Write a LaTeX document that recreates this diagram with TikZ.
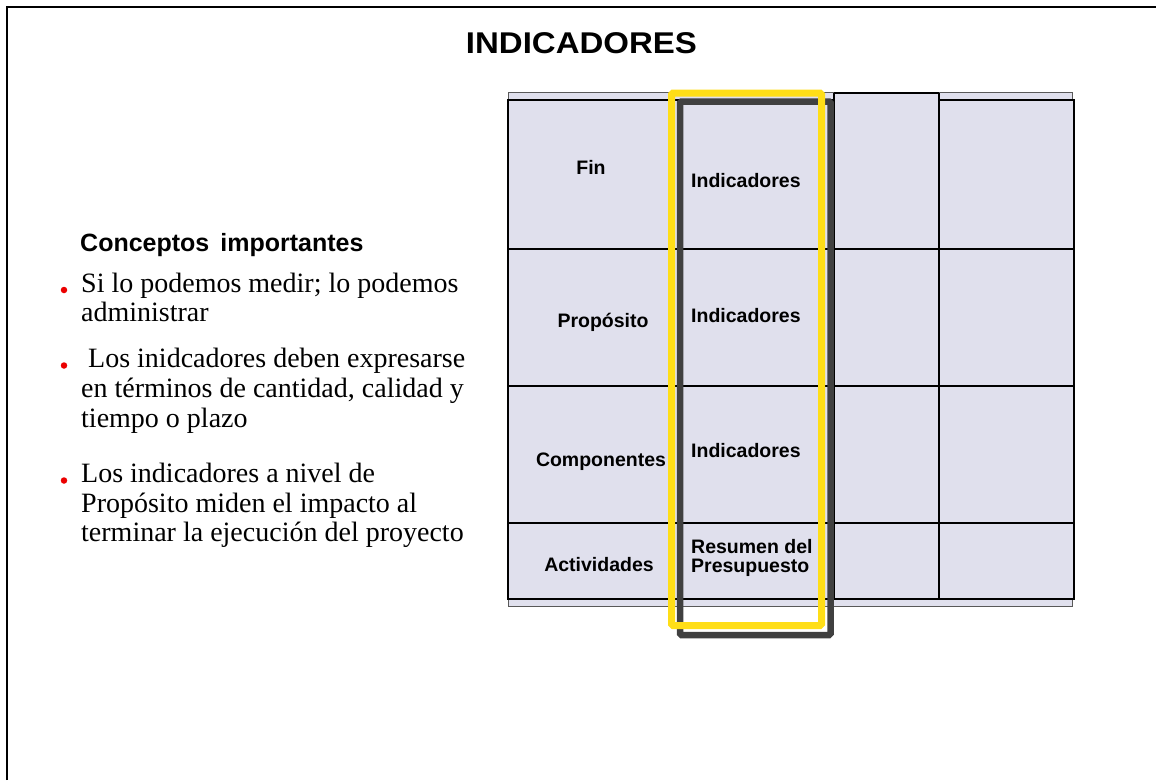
\documentclass[tikz,border=0pt]{standalone}
\usepackage{fontspec}
\setmainfont{Liberation Serif}
\setsansfont{Liberation Sans}
\usepackage{graphicx}
\definecolor{lav}{RGB}{224,224,237}
\definecolor{hiyel}{RGB}{255,222,23}
\definecolor{hidark}{RGB}{64,64,64}
\definecolor{bulred}{RGB}{235,0,0}
\tikzset{
  celltext/.style={font=\sffamily\bfseries\fontsize{19.5}{19.5}\selectfont, inner sep=0pt},
  bodytext/.style={font=\rmfamily\fontsize{28}{29.5}\selectfont, anchor=base west, inner sep=0pt},
  bul/.style={circle, fill=bulred, inner sep=0pt, minimum size=6.5pt},
  gridline/.style={line width=1.5pt, black},
  edgeline/.style={line width=2.5pt, black}
}
\begin{document}
\begin{tikzpicture}[x=1pt,y=-1pt]
\useasboundingbox (0,0) rectangle (1156,780);
% frame
\draw[line width=2pt] (7,780) -- (7,7) -- (1156,7);
% title
\node[anchor=base, inner sep=0pt] (title) at (581.5,53)
  {\scalebox{1.1}[1]{\sffamily\bfseries\fontsize{30}{30}\selectfont INDICADORES}};
% back rectangle of the table
\filldraw[fill=lav, draw=black!65, line width=1pt] (508,92) rectangle (1072,606);
\fill[lav] (508,100) rectangle (1073,599);
% horizontal grid lines
\draw[gridline] (508,100) -- (834,100);
\draw[gridline] (834,93) -- (939,93);
\draw[gridline] (939,100) -- (1074,100);
\foreach \yy in {249,386,523,599}
  \draw[gridline] (508,\yy) -- (1074,\yy);
% vertical grid lines
\draw[gridline] (670,100) -- (670,599);
\draw[gridline] (834,93) -- (834,599);
\draw[gridline] (939,93) -- (939,599);
\draw[edgeline] (508,99) -- (508,600);
\draw[edgeline] (1074,99) -- (1074,600);
% highlight rectangles
\draw[hidark, line width=6.5pt, rounded corners=1.5pt] (680,101.5) rectangle (830.5,635);
\draw[hiyel, line width=7pt, rounded corners=1.5pt] (671.5,93) rectangle (821.5,625.5);
% row labels
\node[celltext, anchor=base] (fin) at (591,174) {Fin};
\node[celltext, anchor=base] (prop) at (603,327) {Propósito};
\node[celltext, anchor=base] (comp) at (601,466) {Componentes};
\node[celltext, anchor=base] (act) at (599,571) {Actividades};
% indicator column
\node[celltext, anchor=base west] (ind1) at (691,187) {Indicadores};
\node[celltext, anchor=base west] (ind2) at (691,322) {Indicadores};
\node[celltext, anchor=base west] (ind3) at (691,457) {Indicadores};
\node[celltext, anchor=base west] (res1) at (691,553) {Resumen del};
\node[celltext, anchor=base west] (res2) at (691,572) {Presupuesto};
% left text
\node[anchor=base west, inner sep=0pt, font=\sffamily\bfseries\fontsize{25}{25}\selectfont] (conc) at (80,251)
  {Conceptos\hspace{11pt}importantes};
\node[bul] (d1) at (64,290) {};
\node[bodytext] (l11) at (81,292) {Si lo podemos medir; lo podemos};
\node[bodytext] (l12) at (81,321) {administrar};
\node[bul] (d2) at (64,365.5) {};
\node[bodytext] (l21) at (88,367) {Los inidcadores deben expresarse};
\node[bodytext] (l22) at (81,397) {en términos de cantidad, calidad y};
\node[bodytext] (l23) at (81,427) {tiempo o plazo};
\node[bul] (d3) at (64,480.5) {};
\node[bodytext] (l31) at (81,482) {Los indicadores a nivel de};
\node[bodytext] (l32) at (81,512) {Propósito miden el impacto al};
\node[bodytext] (l33) at (81,541.5) {terminar la ejecución del proyecto};
\end{tikzpicture}
\end{document}
